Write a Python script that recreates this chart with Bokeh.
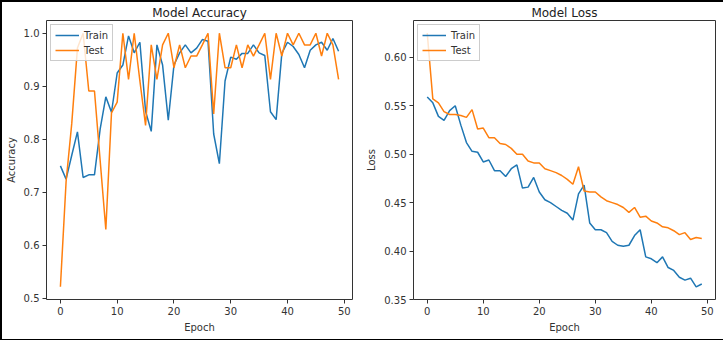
from bokeh.plotting import figure
from bokeh.layouts import row
from bokeh.models import FixedTicker, Range1d, Legend, LegendItem, PrintfTickFormatter
from bokeh.embed import file_html
from bokeh.resources import INLINE

epochs = list(range(50))

train_acc = [0.750, 0.725, 0.770, 0.814, 0.728, 0.733, 0.733, 0.819, 0.880, 0.851,
             0.925, 0.940, 0.995, 0.963, 0.983, 0.853, 0.815, 0.978, 0.940, 0.836,
             0.940, 0.963, 0.978, 0.963, 0.972, 0.988, 0.985, 0.810, 0.754, 0.910,
             0.955, 0.951, 0.962, 0.962, 0.978, 0.963, 0.958, 0.852, 0.837, 0.962,
             0.983, 0.975, 0.960, 0.935, 0.968, 0.978, 0.983, 0.968, 0.990, 0.966]
test_acc = [0.522, 0.720, 0.830, 0.972, 1.000, 0.891, 0.891, 0.760, 0.630, 0.850,
            0.870, 1.000, 0.913, 1.000, 0.910, 0.826, 0.978, 0.913, 0.978, 1.000,
            0.935, 0.978, 0.935, 0.957, 0.957, 0.978, 1.000, 0.848, 1.000, 0.935,
            0.935, 0.978, 0.935, 0.978, 0.957, 0.978, 1.000, 0.913, 1.000, 0.957,
            1.000, 0.978, 1.000, 0.978, 0.978, 1.000, 0.957, 1.000, 0.978, 0.913]
train_loss = [0.559, 0.553, 0.539, 0.535, 0.545, 0.550, 0.530, 0.512, 0.503, 0.502,
              0.492, 0.494, 0.483, 0.483, 0.477, 0.485, 0.489, 0.465, 0.466, 0.476,
              0.461, 0.453, 0.450, 0.446, 0.442, 0.439, 0.432, 0.459, 0.468, 0.429,
              0.422, 0.422, 0.419, 0.410, 0.406, 0.405, 0.406, 0.416, 0.422, 0.394,
              0.392, 0.388, 0.394, 0.383, 0.380, 0.373, 0.370, 0.372, 0.363, 0.366]
test_loss = [0.625, 0.557, 0.553, 0.544, 0.541, 0.541, 0.540, 0.538, 0.546, 0.526,
             0.527, 0.517, 0.517, 0.511, 0.510, 0.506, 0.500, 0.500, 0.493, 0.491,
             0.491, 0.485, 0.483, 0.481, 0.478, 0.474, 0.469, 0.487, 0.462, 0.461,
             0.461, 0.456, 0.452, 0.450, 0.448, 0.445, 0.440, 0.445, 0.435, 0.436,
             0.431, 0.429, 0.425, 0.424, 0.421, 0.417, 0.419, 0.412, 0.414, 0.413]

x_ticks = [0, 10, 20, 30, 40, 50]
acc_ticks = [0.5, 0.6, 0.7, 0.8, 0.9, 1.0]
loss_ticks = [0.35, 0.40, 0.45, 0.50, 0.55, 0.60]

BLUE = "#1f77b4"
ORANGE = "#ff7f0e"
FONT = "DejaVu Sans"


def make_fig(title, ylabel, train, test, yr, yticks, yfmt, left, fw, right):
    p = figure(width=left + fw + right, height=336,
               frame_width=fw, frame_height=279,
               min_border_left=left, min_border_right=right,
               min_border_top=17, min_border_bottom=40,
               output_backend="svg", toolbar_location=None,
               x_range=Range1d(-2.45, 51.45), y_range=Range1d(*yr))
    p.title.text = title
    p.title.align = "center"
    p.title.text_font = FONT
    p.title.text_font_size = "12px"
    p.title.text_font_style = "normal"
    p.title.text_color = "#222222"
    p.title.standoff = 2
    p.xgrid.visible = False
    p.ygrid.visible = False
    p.outline_line_color = "#333333"
    p.outline_line_width = 1
    p.background_fill_color = "white"
    p.border_fill_color = "white"
    p.xaxis.ticker = FixedTicker(ticks=x_ticks)
    p.yaxis.ticker = FixedTicker(ticks=yticks)
    p.yaxis.formatter = PrintfTickFormatter(format="%%.%df" % yfmt)
    for ax in (p.xaxis[0], p.yaxis[0]):
        ax.major_tick_out = 4
        ax.major_tick_in = 0
        ax.minor_tick_line_color = None
        ax.axis_line_color = None
        ax.major_tick_line_color = "#333333"
        ax.major_label_text_font = FONT
        ax.major_label_text_font_size = "10px"
        ax.major_label_text_color = "#333333"
        ax.axis_label_text_font = FONT
        ax.axis_label_text_font_size = "10px"
        ax.axis_label_text_font_style = "normal"
        ax.axis_label_text_color = "#333333"
        ax.major_label_standoff = 3
        ax.axis_label_standoff = 4
    p.xaxis.axis_label = "Epoch"
    p.yaxis.axis_label = ylabel
    r1 = p.line(epochs, train, line_color=BLUE, line_width=1.5)
    r2 = p.line(epochs, test, line_color=ORANGE, line_width=1.5)
    leg = Legend(items=[LegendItem(label="Train", renderers=[r1]),
                        LegendItem(label="Test", renderers=[r2])],
                 location="top_left")
    leg.label_text_font = FONT
    leg.label_text_font_size = "10px"
    leg.label_text_color = "#333333"
    leg.glyph_width = 24
    leg.glyph_height = 12
    leg.label_height = 12
    leg.spacing = 3
    leg.padding = 4
    leg.margin = 4
    leg.border_line_color = "#cccccc"
    leg.border_line_alpha = 1
    leg.background_fill_alpha = 0.8
    p.add_layout(leg)
    return p


p1 = make_fig("Model Accuracy", "Accuracy", train_acc, test_acc,
              (0.498, 1.024), acc_ticks, 1, 41, 306, 11)
p2 = make_fig("Model Loss", "Loss", train_loss, test_loss,
              (0.350, 0.638), loss_ticks, 2, 50, 302, 9)

layout = row(p1, p2, spacing=0, styles={"border": "2px solid black"})
p = layout
open("out.html", "w").write(file_html(p, INLINE))
